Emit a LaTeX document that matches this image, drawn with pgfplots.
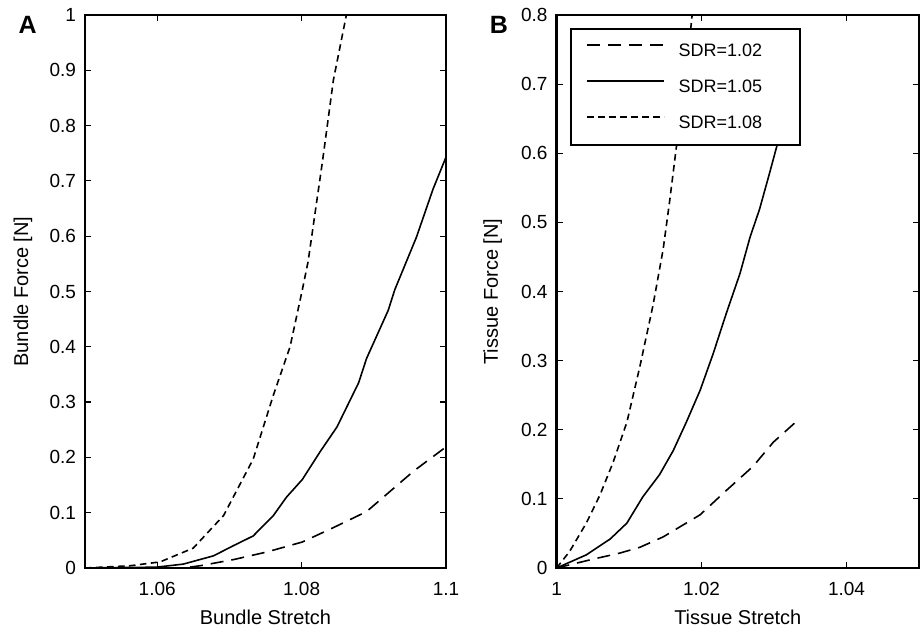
\documentclass[border=0pt]{standalone}
\usepackage{fontspec}
\setmainfont{Liberation Sans}
\usepackage{pgfplots}
\pgfplotsset{compat=1.18}
\begin{document}
\begin{tikzpicture}[x=1pt,y=1pt]
\useasboundingbox (0,0) rectangle (461,316);
\pgfplotsset{
 mystyle/.style={
  scale only axis, anchor=south west,
  axis line style={line width=1.3pt},
  tick style={line width=0.6pt, black},
  major tick length=3pt,
  tick align=inside,
  clip mode=individual,
  ticklabel style={font=\fontsize{9.5}{10}\selectfont},
  yticklabel style={xshift=-1pt},
  xticklabel style={yshift=-3.5pt},
  label style={font=\fontsize{10}{11}\selectfont},
  /pgf/number format/.cd, fixed, precision=2, assume math mode=true,
 },
 longd/.style={black, line width=0.8pt, dash pattern=on 6.5pt off 4pt},
 solidl/.style={black, line width=0.8pt},
 shortd/.style={black, line width=0.8pt, dash pattern=on 3.3pt off 2.2pt},
}
\begin{axis}[mystyle,
  at={(42.5pt,32pt)}, width=180.5pt, height=276.5pt,
  xmin=1.05, xmax=1.1, ymin=0, ymax=1,
  xtick={1.06,1.08,1.1},
  ytick={0,0.1,...,1},
  xlabel={Bundle Stretch}, ylabel={Bundle Force [N]},
  every axis x label/.style={at={(axis description cs:0.5,-0.0886)},anchor=center},
  every axis y label/.style={at={(axis description cs:-0.172,0.5)},anchor=center,rotate=90},
  clip=true,
]
\addplot[longd] coordinates {
(1.05,0) (1.0636,0) (1.0659,0.004) (1.0705,0.015) (1.0752,0.029) (1.0801,0.047)
(1.0844,0.073) (1.089,0.102) (1.0955,0.175) (1.1,0.219)};
\addplot[solidl] coordinates {
(1.05,0) (1.0599,0.0015) (1.0636,0.007) (1.0678,0.022) (1.0705,0.040) (1.0733,0.058)
(1.0761,0.095) (1.0779,0.128) (1.0801,0.160) (1.0826,0.211) (1.0849,0.255)
(1.0879,0.335) (1.089,0.379) (1.0920,0.466) (1.0929,0.503) (1.0959,0.598)
(1.0982,0.685) (1.1,0.743)};
\addplot[shortd] coordinates {
(1.05,0) (1.0562,0.004) (1.0604,0.011) (1.065,0.036) (1.0692,0.095) (1.0733,0.197)
(1.0761,0.313) (1.0784,0.400) (1.0801,0.503) (1.0809,0.554) (1.0829,0.736)
(1.0844,0.882) (1.0862,1.0)};
\node[font=\bfseries\fontsize{12.5}{14}\selectfont] at (axis description cs:-0.159,0.982) {A};
\end{axis}

\begin{axis}[mystyle,
  at={(278.3pt,32pt)}, width=181.2pt, height=276.5pt,
  xmin=1, xmax=1.05, ymin=0, ymax=0.8,
  xtick={1,1.02,1.04},
  ytick={0,0.1,...,0.8},
  xlabel={Tissue Stretch}, ylabel={Tissue Force [N]},
  every axis x label/.style={at={(axis description cs:0.5,-0.0886)},anchor=center},
  every axis y label/.style={at={(axis description cs:-0.176,0.5)},anchor=center,rotate=90},
  clip=true,
  legend cell align=left,
  legend image code/.code={\draw[#1] (0pt,3pt) -- (38.5pt,3pt); \path (45.5pt,3pt);},
  legend style={at={(0.037,0.977)}, anchor=north west, draw=black, line width=1.1pt,
    fill=white, font=\fontsize{9}{10}\selectfont,
    inner xsep=7.5pt, inner ysep=2pt, row sep=0pt,
    nodes={inner xsep=0pt, inner ysep=6pt, text height=6pt, text depth=0pt, text width=53pt}},
]
\addplot[longd] coordinates {
(1.0,0) (1.0051,0.013) (1.0087,0.0215) (1.0115,0.030) (1.0147,0.045) (1.0198,0.077)
(1.0234,0.112) (1.0271,0.147) (1.0299,0.182) (1.0333,0.214)};
\addlegendentry{SDR=1.02}
\addplot[solidl] coordinates {
(1.0,0) (1.0028,0.013) (1.0041,0.019) (1.0074,0.042) (1.0097,0.065) (1.0119,0.103)
(1.0142,0.135) (1.0161,0.170) (1.0179,0.211) (1.0198,0.257) (1.0216,0.310)
(1.0234,0.368) (1.0253,0.426) (1.0267,0.479) (1.0280,0.519) (1.0294,0.572)
(1.0303,0.607) (1.0322,0.677) (1.0336,0.735)};
\addlegendentry{SDR=1.05}
\addplot[shortd] coordinates {
(1.0,0) (1.0018,0.024) (1.0041,0.065) (1.006,0.106) (1.0078,0.153) (1.0097,0.211)
(1.0115,0.292) (1.0133,0.380) (1.0147,0.461) (1.0156,0.531) (1.0165,0.607)
(1.0175,0.677) (1.0187,0.8)};
\addlegendentry{SDR=1.08}
\node[font=\bfseries\fontsize{12.5}{14}\selectfont] at (axis description cs:-0.159,0.982) {B};
\end{axis}
\end{tikzpicture}
\end{document}
